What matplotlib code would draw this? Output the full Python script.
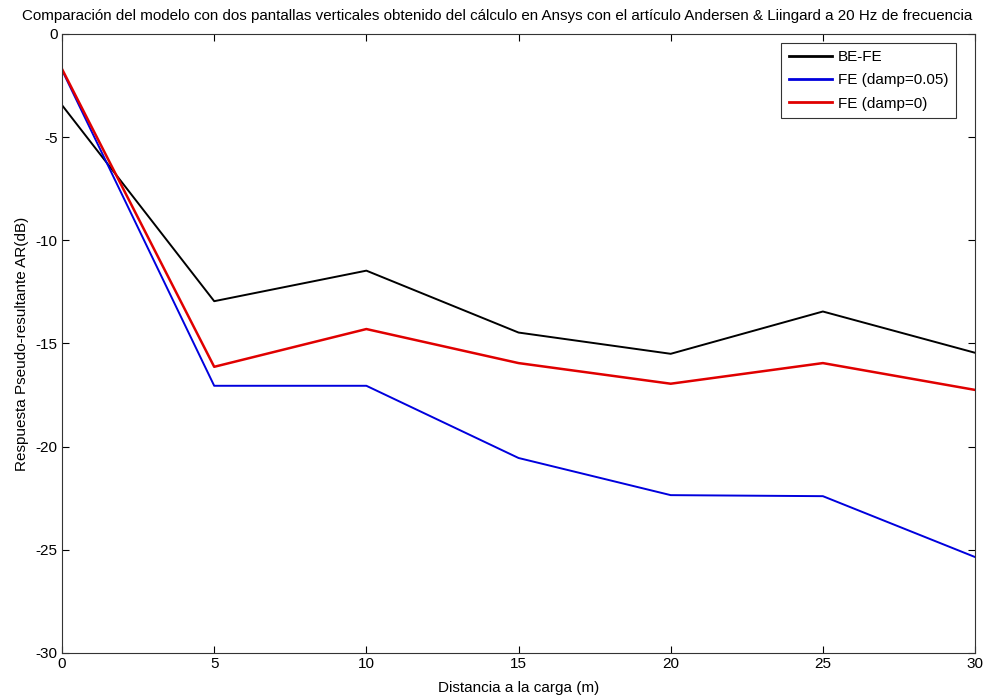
import matplotlib
matplotlib.use("Agg")
import matplotlib.pyplot as plt

plt.rcParams['font.family'] = ['Liberation Sans', 'DejaVu Sans']
plt.rcParams['axes.unicode_minus'] = False

x = [0, 5, 10, 15, 20, 25, 30]
be_fe = [-3.45, -12.95, -11.47, -14.47, -15.5, -13.45, -15.45]
fe_damp005 = [-1.75, -17.05, -17.05, -20.55, -22.35, -22.4, -25.35]
fe_damp0 = [-1.7, -16.13, -14.3, -15.95, -16.95, -15.95, -17.25]
labels = ['BE-FE', 'FE (damp=0.05)', 'FE (damp=0)']

fs = 11
fig = plt.figure(figsize=(9.91, 6.98), dpi=100)
ax = fig.add_axes([0.0626, 0.0645, 0.9213, 0.8868])

ax.plot(x, be_fe, color='black', lw=1.4, label=labels[0])
ax.plot(x, fe_damp005, color='#0000dd', lw=1.4, label=labels[1])
ax.plot(x, fe_damp0, color='#e00000', lw=1.8, label=labels[2])

ax.set_xlim(0, 30)
ax.set_ylim(-30, 0)
ax.set_xticks(range(0, 31, 5))
ax.set_yticks(range(-30, 1, 5))
ax.tick_params(direction='in', top=True, right=True, labelsize=fs, length=5, width=0.8, pad=3)
for s in ax.spines.values():
    s.set_linewidth(0.8)
    s.set_color('#333333')

ax.set_xlabel('Distancia a la carga (m)', fontsize=fs, labelpad=7)
ax.set_ylabel('Respuesta Pseudo-resultante AR(dB)', fontsize=fs, labelpad=5)
ax.set_title('Comparación del modelo con dos pantallas verticales obtenido del cálculo en Ansys con el artículo Andersen & Liingard a 20 Hz de frecuencia',
             fontsize=10.9, pad=10, x=0.477)

leg = ax.legend(loc='upper right', bbox_to_anchor=(0.979, 0.986), fontsize=fs,
                frameon=True, fancybox=False, borderaxespad=0.0,
                handlelength=2.8, handletextpad=0.4, labelspacing=0.6,
                borderpad=0.5)
leg.get_frame().set_edgecolor('black')
leg.get_frame().set_linewidth(0.8)
for line in leg.get_lines():
    line.set_linewidth(2)

fig.savefig('out.png', dpi=100)
